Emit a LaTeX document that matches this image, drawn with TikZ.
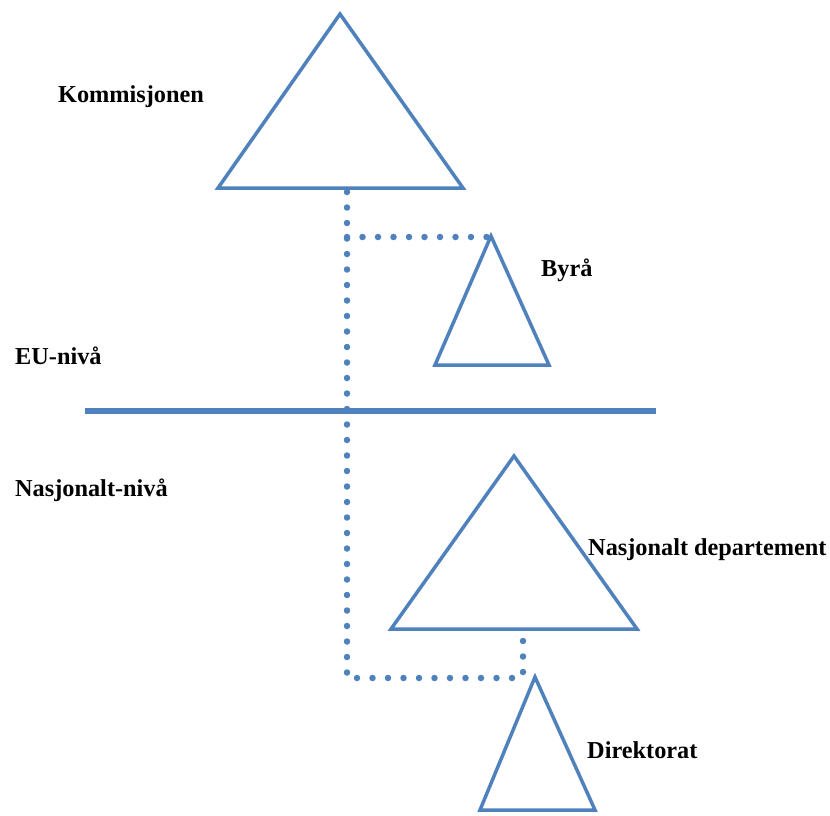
\documentclass[tikz,border=0pt]{standalone}
\usepackage{fontspec}
\setmainfont{Liberation Serif}
\usetikzlibrary{positioning,calc}
\definecolor{eublue}{RGB}{79,129,189}
\tikzset{
  tri/.style={draw=eublue,line width=3.5pt,line join=miter,fill=white},
  prikk/.style={draw=eublue,line width=6.5pt,line cap=round,dash pattern=on 0pt off 15.5pt},
  skille/.style={draw=eublue,line width=6pt},
  lbl/.style={font=\fontsize{24.3}{28}\selectfont\bfseries,inner sep=0pt},
}

\begin{document}
\begin{tikzpicture}[x=1pt,y=-1pt]
  \useasboundingbox (0,0) rectangle (830,815);
  % trekanter (topp, venstre, hoyre)
  \coordinate (komTop) at (340,14);  \coordinate (komL) at (218,188); \coordinate (komR) at (463,188);
  \coordinate (byrTop) at (491,236); \coordinate (byrL) at (435,365); \coordinate (byrR) at (549,365);
  \coordinate (depTop) at (514,456); \coordinate (depL) at (391,629); \coordinate (depR) at (637,629);
  \coordinate (dirTop) at (535,677); \coordinate (dirL) at (480,810); \coordinate (dirR) at (595,810);
  % knekkpunkter for prikklinjene
  \coordinate (komFot) at (347,192);
  \coordinate (byrKnekk) at (347,237);
  \coordinate (dirKnekk) at (347,678);
  \coordinate (depFot) at (523,641);
  \coordinate (depKnekk) at (523,678);
  \coordinate (linjeV) at (85,411);
  \coordinate (linjeH) at (656,411);

  \draw[prikk] (komFot) -- (dirKnekk) -- (depKnekk);
  \draw[prikk] (byrKnekk) -- (488,237);
  \draw[prikk] (depFot) -- (depKnekk);
  \draw[skille] (linjeV) -- (linjeH);

  \draw[tri] (komTop) -- (komR) -- (komL) -- cycle;
  \draw[tri] (byrTop) -- (byrR) -- (byrL) -- cycle;
  \draw[tri] (depTop) -- (depR) -- (depL) -- cycle;
  \draw[tri] (dirTop) -- (dirR) -- (dirL) -- cycle;

  \node[lbl] (kom) at (131,97) {Kommisjonen};
  \node[lbl,anchor=west] (byr) at (541,270) {Byrå};
  \node[lbl,anchor=west] (eu) at (15,356) {EU-nivå};
  \node[lbl,anchor=west] (nas) at (15,490) {Nasjonalt-nivå};
  \node[lbl,anchor=west] (dep) at (588,550) {Nasjonalt departement};
  \node[lbl,anchor=west] (dir) at (587,750) {Direktorat};
\end{tikzpicture}
\end{document}
